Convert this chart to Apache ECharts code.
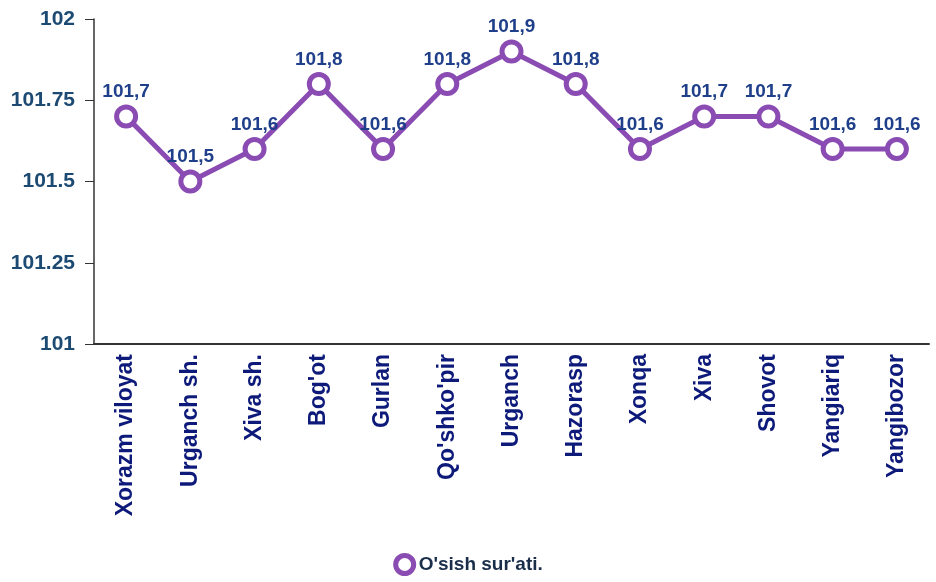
<!DOCTYPE html>
<html>
<head>
<meta charset="utf-8">
<script src="https://cdn.jsdelivr.net/npm/echarts@6/dist/echarts.min.js"></script>
<style>
  html, body { margin: 0; padding: 0; background: #fff; }
  #chart { width: 936px; height: 582px; }
</style>
</head>
<body>
<div id="chart"></div>
<script>
const categories = ['Xorazm viloyat', 'Urganch sh.', 'Xiva sh.', "Bog'ot", 'Gurlan', "Qo'shko'pir",
  'Urganch', 'Hazorasp', 'Xonqa', 'Xiva', 'Shovot', 'Yangiariq', 'Yangibozor']
const growthValues = [101.7, 101.5, 101.6, 101.8, 101.6, 101.8, 101.9, 101.8, 101.6, 101.7, 101.7, 101.6, 101.6]
const seriesName = "O'sish sur'ati."

const purple = '#8a4bb3'
const chart = echarts.init(document.getElementById('chart'))

const option = {
  animation: false,
  textStyle: { fontFamily: 'Liberation Sans, Arial, sans-serif' },
  grid: {
    left: 94,
    right: 7,
    top: 19,
    bottom: 238
  },
  legend: {
    bottom: 1,
    left: 'center',
    icon: 'circle',
    itemWidth: 18,
    itemHeight: 18,
    itemGap: 6,
    itemStyle: { color: '#fff', borderColor: purple, borderWidth: 5 },
    textStyle: { color: '#1a2e4a', fontWeight: 'bold', fontSize: 19 },
    data: [seriesName]
  },
  xAxis: {
    type: 'category',
    data: categories,
    axisLine: { lineStyle: { color: '#333', width: 2 } },
    axisTick: { alignWithLabel: true, length: 10, lineStyle: { color: '#333' } },
    axisLabel: {
      rotate: 90,
      color: '#0d1a7a',
      fontWeight: 'bold',
      fontSize: 23,
      margin: 10,
      interval: 0
    }
  },
  yAxis: {
    type: 'value',
    min: 101,
    max: 102,
    interval: 0.25,
    splitLine: { show: false },
    axisLine: { show: true, lineStyle: { color: '#333', width: 1.5 } },
    axisTick: { show: true, length: 9, lineStyle: { color: '#333' } },
    axisLabel: {
      color: '#1c4a72',
      fontWeight: 'bold',
      fontSize: 21,
      margin: 19
    }
  },
  series: [{
    name: seriesName,
    type: 'line',
    data: growthValues,
    symbol: 'circle',
    symbolSize: 19,
    lineStyle: { color: purple, width: 5 },
    itemStyle: { color: '#fff', borderColor: purple, borderWidth: 5 },
    label: {
      show: true,
      position: 'top',
      distance: 3,
      color: '#1f3f8a',
      fontWeight: 'bold',
      fontSize: 19,
      formatter: p => p.value.toFixed(1).replace('.', ',')
    }
  }]
}

chart.setOption(option)
</script>
</body>
</html>
